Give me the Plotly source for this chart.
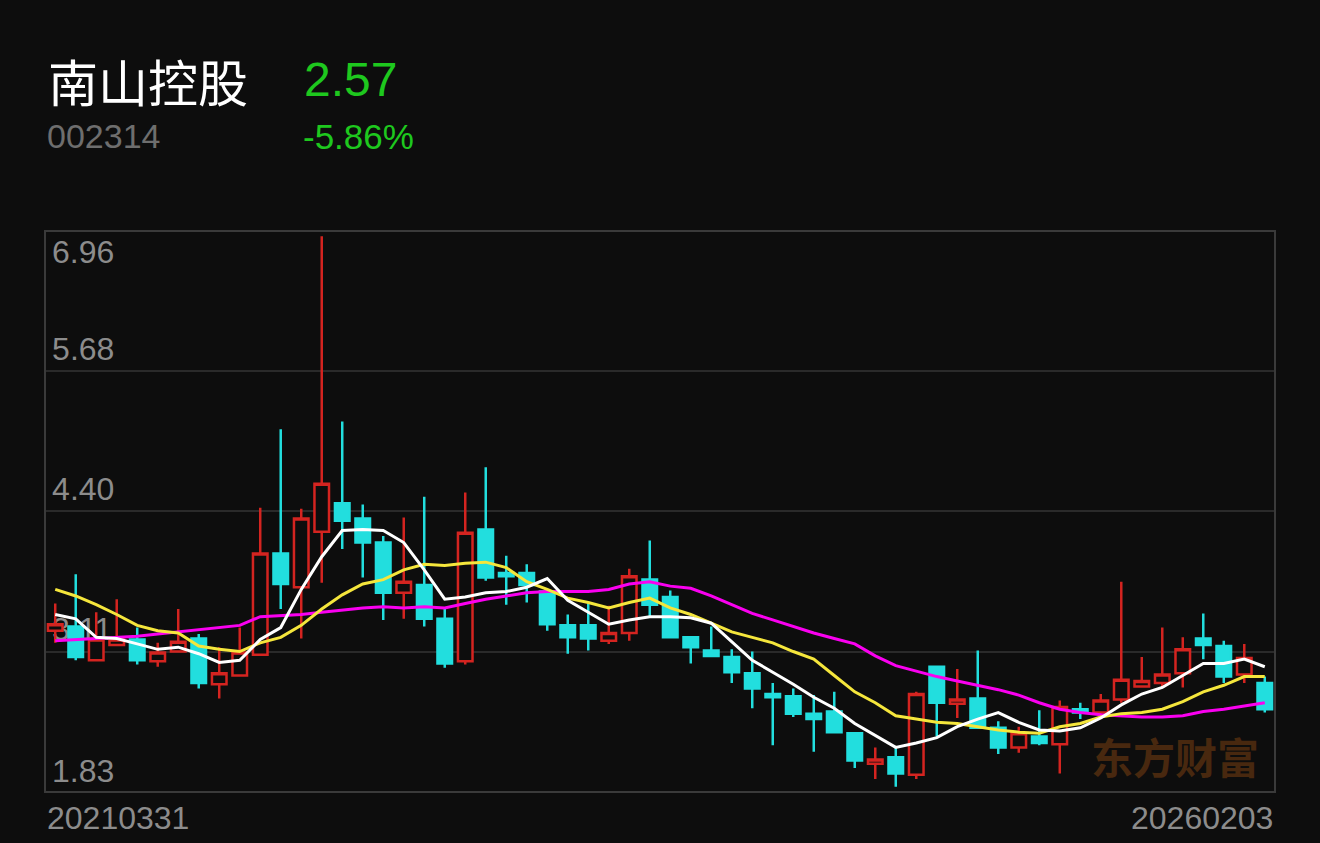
import plotly.graph_objects as go

# 南山控股 002314 - candles
open_px = [3.30, 3.34, 3.03, 3.17, 3.22, 3.02, 3.11, 3.23, 2.81, 2.89,
           3.08, 4.01, 3.70, 4.21, 4.47, 4.33, 4.11, 3.65, 3.72, 3.41,
           3.02, 4.23, 3.83, 3.83, 3.66, 3.35, 3.35, 3.21, 3.28, 3.77,
           3.61, 3.24, 3.12, 3.06, 2.91, 2.72, 2.70, 2.54, 2.56, 2.36,
           2.08, 2.14, 1.98, 2.97, 2.63, 2.68, 2.41, 2.23, 2.33, 2.26,
           2.58, 2.55, 2.67, 2.79, 2.82, 2.91, 3.23, 3.16, 2.90, 2.82]
high_px = [3.55, 3.82, 3.47, 3.59, 3.33, 3.19, 3.50, 3.27, 3.15, 3.33,
           4.43, 5.15, 4.42, 6.92, 5.22, 4.46, 4.17, 4.34, 4.53, 3.50,
           4.57, 4.80, 3.99, 3.91, 3.67, 3.45, 3.55, 3.53, 3.87, 4.13,
           3.67, 3.24, 3.34, 3.13, 3.11, 2.82, 2.77, 2.71, 2.74, 2.36,
           2.23, 2.23, 2.74, 2.97, 2.95, 3.12, 2.47, 2.42, 2.57, 2.66,
           2.64, 2.72, 3.75, 3.06, 3.33, 3.24, 3.46, 3.21, 3.18, 2.88]
low_px = [3.19, 3.03, 3.03, 3.16, 2.99, 2.97, 3.10, 2.77, 2.68, 2.89,
          3.07, 3.50, 3.23, 3.74, 4.05, 3.79, 3.40, 3.41, 3.34, 2.96,
          2.99, 3.76, 3.54, 3.56, 3.30, 3.09, 3.12, 3.18, 3.21, 3.43,
          3.23, 3.00, 3.06, 2.82, 2.59, 2.25, 2.51, 2.19, 2.36, 2.04,
          1.94, 1.87, 1.94, 2.33, 2.50, 2.41, 2.17, 2.18, 2.25, 1.99,
          2.49, 2.52, 2.64, 2.78, 2.78, 2.78, 3.04, 2.82, 2.82, 2.55]
close_px = [3.36, 3.06, 3.22, 3.22, 3.03, 3.10, 3.20, 2.82, 2.91, 3.10,
            4.01, 3.73, 4.33, 4.65, 4.31, 4.11, 3.65, 3.75, 3.41, 3.00,
            4.20, 3.79, 3.80, 3.72, 3.36, 3.24, 3.23, 3.28, 3.80, 3.54,
            3.24, 3.15, 3.07, 2.92, 2.77, 2.69, 2.54, 2.49, 2.37, 2.11,
            2.12, 1.99, 2.72, 2.64, 2.67, 2.41, 2.23, 2.36, 2.27, 2.60,
            2.55, 2.66, 2.85, 2.84, 2.90, 3.13, 3.17, 2.88, 3.05, 2.58]

# moving average lines, also
ma_white = [3.45, 3.41, 3.24, 3.23, 3.18, 3.13, 3.15, 3.09, 3.01, 3.03,
            3.22, 3.33, 3.68, 3.98, 4.22, 4.23, 4.22, 4.11, 3.86, 3.59,
            3.61, 3.65, 3.66, 3.70, 3.78, 3.58, 3.47, 3.36, 3.40, 3.43,
            3.43, 3.42, 3.37, 3.20, 3.03, 2.92, 2.81, 2.69, 2.59, 2.45,
            2.34, 2.23, 2.27, 2.32, 2.42, 2.49, 2.55, 2.46, 2.39, 2.38,
            2.41, 2.50, 2.62, 2.72, 2.78, 2.89, 3.00, 3.00, 3.04, 2.97]
ma_yellow = [3.68, 3.62, 3.54, 3.45, 3.35, 3.30, 3.28, 3.16, 3.13, 3.11,
             3.19, 3.24, 3.35, 3.50, 3.63, 3.73, 3.77, 3.86, 3.91, 3.90,
             3.92, 3.93, 3.88, 3.75, 3.68, 3.60, 3.56, 3.51, 3.56, 3.60,
             3.51, 3.45, 3.37, 3.29, 3.24, 3.19, 3.11, 3.04, 2.89, 2.74,
             2.64, 2.52, 2.49, 2.46, 2.45, 2.42, 2.39, 2.37, 2.36, 2.42,
             2.45, 2.51, 2.54, 2.55, 2.58, 2.65, 2.74, 2.80, 2.88, 2.88]
ma_magenta = [3.21, 3.22, 3.23, 3.24, 3.25, 3.27, 3.29, 3.31, 3.33, 3.35,
              3.43, 3.44, 3.45, 3.47, 3.49, 3.51, 3.52, 3.51, 3.52, 3.51,
              3.55, 3.59, 3.62, 3.65, 3.66, 3.66, 3.66, 3.68, 3.73, 3.75,
              3.71, 3.69, 3.62, 3.54, 3.46, 3.40, 3.34, 3.28, 3.23, 3.18,
              3.07, 2.98, 2.93, 2.88, 2.84, 2.80, 2.76, 2.71, 2.64, 2.58,
              2.55, 2.53, 2.52, 2.51, 2.51, 2.52, 2.56, 2.58, 2.61, 2.64]

y_ticks = [3.11, 4.40, 5.68]
y_bottom = 1.83
y_top = 6.96
start_date = "20210331"
end_date = "20260203"

BG = "#0d0d0d"
RED = "#d42420"
CYAN = "#22dede"
GREY = "#8c8c8c"
GREEN = "#1ec81e"

xs = list(range(len(open_px)))

fig = go.Figure()

fig.add_trace(go.Candlestick(
    x=xs, open=open_px, high=high_px, low=low_px, close=close_px,
    increasing=dict(line=dict(color=RED, width=2.5), fillcolor=BG),
    decreasing=dict(line=dict(color=CYAN, width=2.5), fillcolor=CYAN),
    whiskerwidth=0, hoverinfo="skip", showlegend=False,
))

for vals, col in [(ma_magenta, "#fa00f0"), (ma_yellow, "#f5e63c"), (ma_white, "#ffffff")]:
    fig.add_trace(go.Scatter(x=xs, y=vals, mode="lines",
                             line=dict(color=col, width=3),
                             hoverinfo="skip", showlegend=False))

annotations = [
    dict(text="南山控股", x=46, y=80, font=dict(size=50, color="#ffffff",
         family="Noto Sans CJK SC")),
    dict(text="2.57", x=302, y=79, font=dict(size=48, color=GREEN,
         family="Liberation Sans")),
    dict(text="002314", x=45, y=136, font=dict(size=34, color="#6e6e6e",
         family="Liberation Sans")),
    dict(text="-5.86%", x=301, y=136, font=dict(size=35, color=GREEN,
         family="Liberation Sans")),
    dict(text=start_date, x=45, y=818, font=dict(size=32, color=GREY,
         family="Liberation Sans")),
    dict(text=end_date, x=1275, y=818, xanchor="right", font=dict(size=32, color=GREY,
         family="Liberation Sans")),
    dict(text=f"{y_top:.2f}", x=50, y=252, font=dict(size=32, color=GREY,
         family="Liberation Sans")),
    dict(text=f"{y_bottom:.2f}", x=50, y=771, font=dict(size=32, color=GREY,
         family="Liberation Sans")),
    dict(text="<b>东方财富</b>", x=1175, y=755, xanchor="center",
         font=dict(size=42, color="#48280f", family="Noto Sans CJK SC")),
]
for a in annotations:
    a.setdefault("xanchor", "left")
    a.update(xref="paper", yref="paper", showarrow=False, yanchor="middle")
    # convert pixel position to paper coords
    a["x"] = (a["x"] - 46) / (1274 - 46)
    a["y"] = (791 - a["y"]) / (791 - 232)

fig.update_layout(
    width=1320, height=843,
    margin=dict(l=46, r=46, t=232, b=52),
    paper_bgcolor=BG, plot_bgcolor=BG,
    boxgap=0.29, boxgroupgap=0,
    annotations=annotations,
    xaxis=dict(range=[-0.45, len(xs) - 0.55], showgrid=False, showticklabels=False,
               rangeslider=dict(visible=False), zeroline=False,
               showline=True, mirror=True, linecolor="#3a3a3a", linewidth=1.5),
    yaxis=dict(range=[y_bottom, y_top], tickvals=y_ticks,
               ticktext=[f"{v:.2f}" for v in y_ticks],
               ticklabelposition="inside top", ticklabelshift=0,
               ticklabelstandoff=9,
               tickfont=dict(size=32, color=GREY, family="Liberation Sans"),
               showgrid=True, gridcolor="#2a2a2a", gridwidth=2, zeroline=False,
               layer="below traces",
               showline=True, mirror=True, linecolor="#3a3a3a", linewidth=1.5),
)

fig.write_html(
    "out.html",
    config={"displayModeBar": False},
    post_script="document.body.style.margin='0';"
                "document.body.style.overflow='hidden';"
                "document.body.style.background='#0d0d0d';",
)
